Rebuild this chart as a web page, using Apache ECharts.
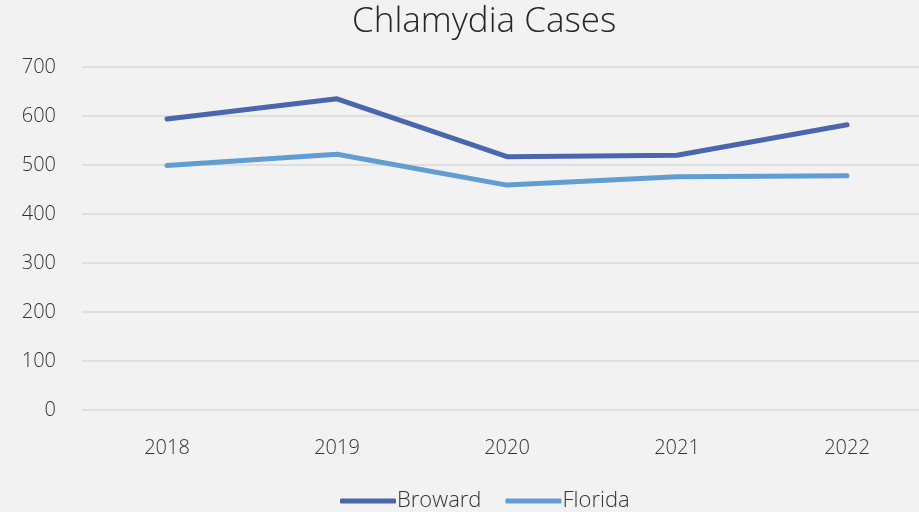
<!DOCTYPE html>
<html>
<head>
<meta charset="utf-8">
<title>Chlamydia Cases</title>
<script src="https://cdn.jsdelivr.net/npm/echarts@6/dist/echarts.min.js"></script>
<style>
  html, body { margin: 0; padding: 0; background: #f2f2f2; overflow: hidden; }
  /* the original chart is a bit wider than the window, its right edge is cut */
  #chart { width: 932px; height: 512px; }
</style>
</head>
<body>
<div id="chart"></div>
<script>
// data
const years = ['2018', '2019', '2020', '2021', '2022'];
const broward = [594, 635, 517, 520, 582];
const florida = [499, 522, 459, 476, 478];
const yTicks = [0, 100, 200, 300, 400, 500, 600, 700];

const fontName = '"Open Sans", "Noto Sans", sans-serif';
const chart = echarts.init(document.getElementById('chart'));

const option = {
    backgroundColor: '#f2f2f2',
    animation: false,
    title: {
        text: 'Chlamydia Cases',
        left: 347,
        top: 0,
        textStyle: {
            fontFamily: fontName,
            fontWeight: 300,
            fontSize: 35,
            color: '#262626'
        }
    },
    grid: {
        top: 67,
        bottom: 102,
        left: 82,
        right: 0
    },
    legend: {
        top: 485,
        left: 335,
        icon: 'roundRect',
        itemWidth: 56,
        itemHeight: 5,
        itemGap: 24,
        textStyle: {
            fontFamily: fontName,
            fontWeight: 300,
            fontSize: 22,
            color: '#333333',
            padding: [0, 0, 0, -4]
        },
        data: ['Broward', 'Florida']
    },
    xAxis: {
        type: 'category',
        data: years,
        boundaryGap: true,
        axisLine: { show: false },
        axisTick: { show: false },
        axisLabel: {
            margin: 28,
            fontFamily: fontName,
            fontWeight: 300,
            fontSize: 20,
            color: '#333333'
        }
    },
    yAxis: {
        type: 'value',
        min: yTicks[0],
        max: yTicks[yTicks.length - 1],
        interval: 100,
        axisLine: { show: false },
        axisTick: { show: false },
        splitLine: { lineStyle: { color: '#d9d9d9', width: 1.5 } },
        axisLabel: {
            margin: 26,
            fontFamily: fontName,
            fontWeight: 300,
            fontSize: 20,
            color: '#333333'
        }
    },
    series: [{
        name: 'Broward',
        type: 'line',
        data: broward,
        symbol: 'none',
        color: '#4a66ac',
        lineStyle: { width: 5, color: '#4a66ac', cap: 'round', join: 'round' }
    }, {
        name: 'Florida',
        type: 'line',
        data: florida,
        symbol: 'none',
        color: '#629dd1',
        lineStyle: { width: 5, color: '#629dd1', cap: 'round', join: 'round' }
    }]
};

chart.setOption(option);
</script>
</body>
</html>
